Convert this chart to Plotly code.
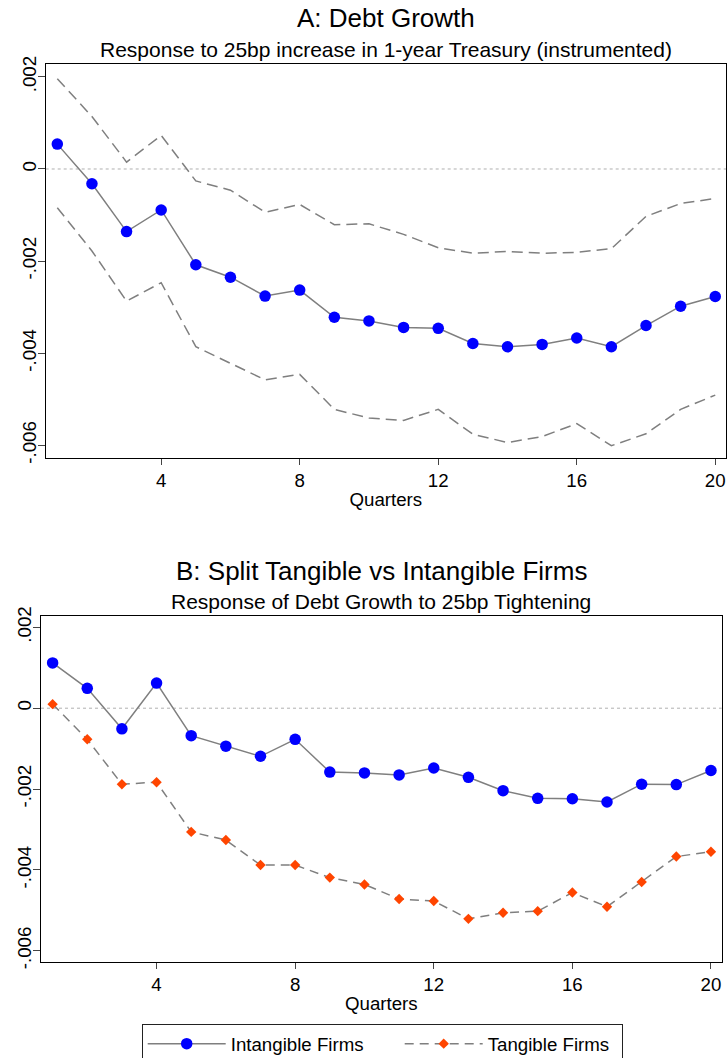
import plotly.graph_objects as go

# ---------------- data ----------------
quarters = list(range(1, 21))

# Panel A: debt growth response (point estimate and 95% bands)
debt_irf = [0.00054, -0.00032, -0.00136, -0.00089, -0.00208, -0.00235, -0.00276, -0.00263,
            -0.00322, -0.00330, -0.00344, -0.00346, -0.00379, -0.00386, -0.00381, -0.00367,
            -0.00386, -0.00340, -0.00298, -0.00277]
debt_upper = [0.00196, 0.00114, 0.00015, 0.00073, -0.00026, -0.00046, -0.00094, -0.00077,
              -0.00121, -0.00119, -0.00142, -0.00171, -0.00183, -0.00179, -0.00183, -0.00181,
              -0.00173, -0.00103, -0.00075, -0.00064]
debt_lower = [-0.00084, -0.00178, -0.00287, -0.00247, -0.00386, -0.00422, -0.00458, -0.00446,
              -0.00522, -0.00541, -0.00546, -0.00522, -0.00576, -0.00594, -0.00581, -0.00553,
              -0.00601, -0.00575, -0.00522, -0.00491]

# Panel B: split by firm type
intangible = [0.00112, 0.00049, -0.00051, 0.00062, -0.00068, -0.00094, -0.00119, -0.00077,
              -0.00158, -0.00160, -0.00165, -0.00148, -0.00171, -0.00204, -0.00223, -0.00224,
              -0.00232, -0.00188, -0.00189, -0.00154]
tangible = [0.00010, -0.00077, -0.00188, -0.00183, -0.00306, -0.00326, -0.00388, -0.00388,
            -0.00419, -0.00436, -0.00472, -0.00477, -0.00521, -0.00506, -0.00502, -0.00456,
            -0.00491, -0.00430, -0.00367, -0.00355]

series_names = ["Intangible Firms", "Tangible Firms"]

x_tickvals = [4, 8, 12, 16, 20]
y_tickvals = [-0.006, -0.004, -0.002, 0, 0.002]
y_ticktext = ["-.006", "-.004", "-.002", "0", ".002"]

title_a = "A: Debt Growth"
subtitle_a = "Response to 25bp increase in 1-year Treasury (instrumented)"
title_b = "B: Split Tangible vs Intangible Firms"
subtitle_b = "Response of Debt Growth to 25bp Tightening"
x_title = "Quarters"

# ---------------- styling ----------------
FONT = "Liberation Sans, Arial, Helvetica, sans-serif"
GRAY = "#7f7f7f"
BLUE = "#0000ff"
ORANGE = "#ff4500"
W, H = 727, 1058
SMALL = 18.7

fig = go.Figure()

# Panel A
fig.add_trace(go.Scatter(x=quarters, y=debt_upper, mode="lines", xaxis="x", yaxis="y",
                         line=dict(color=GRAY, width=1.5, dash="11px,6px"), showlegend=False,
                         hoverinfo="skip"))
fig.add_trace(go.Scatter(x=quarters, y=debt_lower, mode="lines", xaxis="x", yaxis="y",
                         line=dict(color=GRAY, width=1.5, dash="11px,6px"), showlegend=False,
                         hoverinfo="skip"))
fig.add_trace(go.Scatter(x=quarters, y=debt_irf, mode="lines+markers", xaxis="x", yaxis="y",
                         line=dict(color=GRAY, width=1.5),
                         marker=dict(color=BLUE, size=11.5, symbol="circle"),
                         showlegend=False))

# Panel B
fig.add_trace(go.Scatter(x=quarters, y=intangible, mode="lines+markers", xaxis="x2", yaxis="y2",
                         name=series_names[0], legendwidth=164,
                         line=dict(color=GRAY, width=1.5),
                         marker=dict(color=BLUE, size=11.5, symbol="circle")))
fig.add_trace(go.Scatter(x=quarters, y=tangible, mode="lines+markers", xaxis="x2", yaxis="y2",
                         name=series_names[1], legendwidth=129,
                         line=dict(color=GRAY, width=1.5, dash="9px,6px"),
                         marker=dict(color=ORANGE, size=8, symbol="diamond")))

# dotted zero reference lines
for yref, xref in (("y", "x domain"), ("y2", "x2 domain")):
    fig.add_shape(type="line", xref=xref, yref=yref, x0=0, x1=1, y0=0, y1=0,
                  line=dict(color="#b0b0b0", width=1, dash="dot"), layer="below")

xrange = [0.665, 20.31]
yrange = [-0.00627, 0.00228]

common_x = dict(range=xrange, tickmode="array", tickvals=x_tickvals, showgrid=False,
                zeroline=False, showline=True, mirror=True, linecolor="black", linewidth=1.3,
                ticks="outside", ticklen=6, tickwidth=1, tickcolor="#444", automargin=False,
                tickfont=dict(family=FONT, size=SMALL, color="black"),
                title=dict(text=x_title, font=dict(family=FONT, size=SMALL, color="black"),
                           standoff=2))
common_y = dict(range=yrange, tickmode="array", tickvals=y_tickvals, ticktext=y_ticktext,
                showgrid=False, zeroline=False, showline=True, mirror=True, linecolor="black",
                linewidth=1.3, ticks="outside", ticklen=7, tickwidth=1, tickcolor="#444",
                automargin=False, ticklabelstandoff=-6,
                tickangle=-90, tickfont=dict(family=FONT, size=SMALL, color="black"))

fig.update_layout(
    template="none",
    width=W, height=H,
    margin=dict(l=0, r=0, t=0, b=0, autoexpand=False),
    paper_bgcolor="white", plot_bgcolor="white",
    font=dict(family=FONT, color="black"),
    xaxis=dict(domain=[45.7 / W, 726 / W], anchor="y", **common_x),
    yaxis=dict(domain=[1 - 457.7 / H, 1 - 64 / H], anchor="x", **common_y),
    xaxis2=dict(domain=[41 / W, 721.7 / W], anchor="y2", **common_x),
    yaxis2=dict(domain=[1 - 961.7 / H, 1 - 616 / H], anchor="x2", **common_y),
    showlegend=True,
    legend=dict(orientation="h", x=141.7 / W, xanchor="left", y=1 - 1024 / H, yanchor="top",
                bordercolor="#222", borderwidth=1, bgcolor="white",
                font=dict(family=FONT, size=SMALL, color="black"),
                itemwidth=78),
)

annos = [
    (title_a, 385.9, 18, 26),
    (subtitle_a, 385.9, 49, 21),
    (title_b, 381.4, 571, 26),
    (subtitle_b, 381.4, 601, 21),
]
for text, xc, yc, size in annos:
    fig.add_annotation(text=text, xref="paper", yref="paper", x=xc / W, y=1 - yc / H,
                       xanchor="center", yanchor="middle", showarrow=False,
                       font=dict(family=FONT, size=size, color="black"))

fig.write_html("out.html", config={"displayModeBar": False},
               post_script="document.body.style.margin='0';document.body.style.padding='0';"
                           "document.documentElement.style.overflow='hidden';")
